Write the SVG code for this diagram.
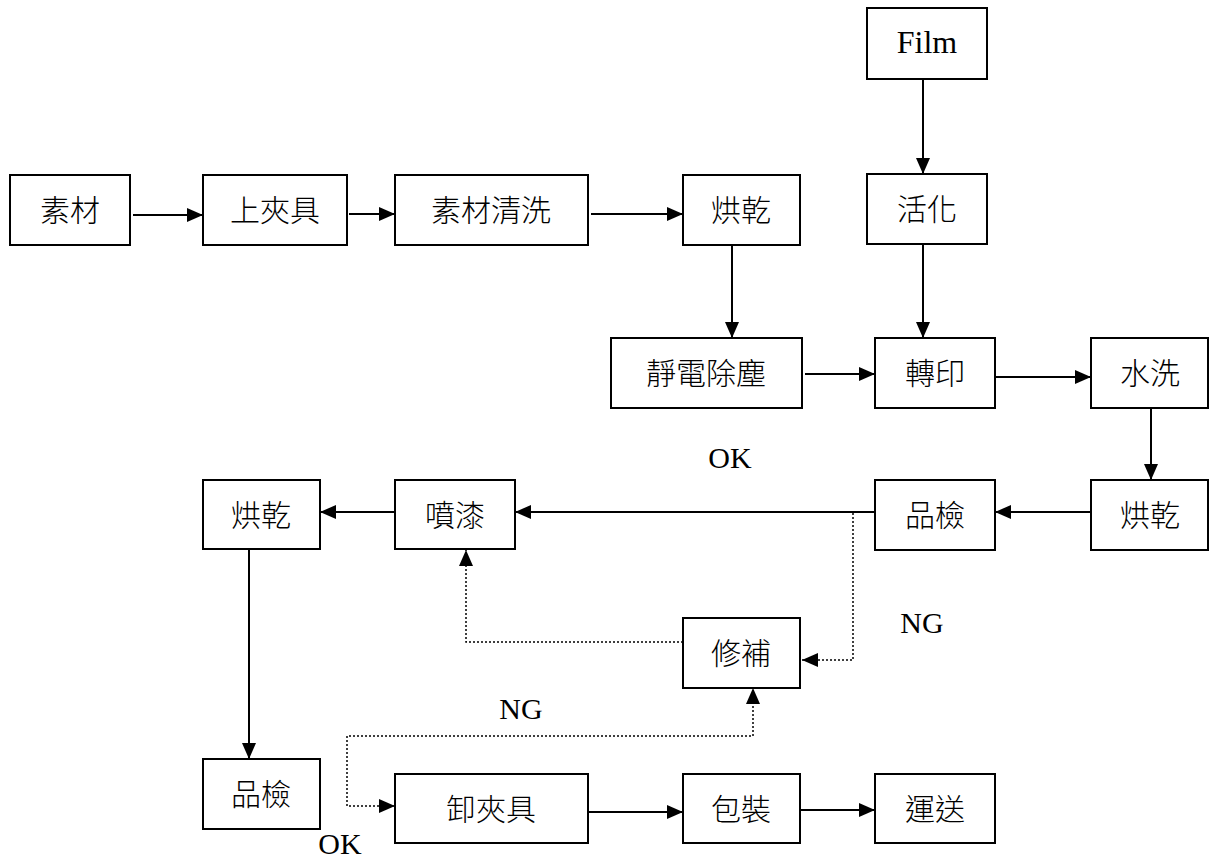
<svg xmlns="http://www.w3.org/2000/svg" width="1218" height="858" viewBox="0 0 1218 858">
<style>
.box{fill:#fff;stroke:#000;stroke-width:2}
.t{font-family:"Noto Sans CJK TC",sans-serif;font-size:30px;font-weight:300;text-anchor:middle;fill:#000}
.f{font-family:"Liberation Serif",serif;font-size:32px;text-anchor:middle;fill:#000}
.l{font-family:"Liberation Serif",serif;font-size:30px;text-anchor:middle;fill:#000}
.c{stroke:#000;stroke-width:2;fill:none}
.d{stroke:#000;stroke-width:1.5;fill:none;stroke-dasharray:2 2}
</style>
<defs>
<marker id="a" viewBox="0 0 16 14" refX="16" refY="7" markerWidth="16" markerHeight="14" markerUnits="userSpaceOnUse" orient="auto">
<path d="M0,0 L16,7 L0,14 Z" fill="#000"/>
</marker>
</defs>
<rect width="1218" height="858" fill="#fff"/>
<g id="connectors">
<line class="c" x1="133" y1="215" x2="203" y2="215" marker-end="url(#a)"/>
<line class="c" x1="349" y1="214" x2="395" y2="214" marker-end="url(#a)"/>
<line class="c" x1="591" y1="214" x2="683" y2="214" marker-end="url(#a)"/>
<line class="c" x1="923" y1="79" x2="923" y2="174" marker-end="url(#a)"/>
<line class="c" x1="732" y1="245" x2="732" y2="338" marker-end="url(#a)"/>
<line class="c" x1="923" y1="244" x2="923" y2="338" marker-end="url(#a)"/>
<line class="c" x1="805" y1="374" x2="875" y2="374" marker-end="url(#a)"/>
<line class="c" x1="995" y1="377" x2="1091" y2="377" marker-end="url(#a)"/>
<line class="c" x1="1151" y1="408" x2="1151" y2="480" marker-end="url(#a)"/>
<line class="c" x1="1091" y1="512" x2="995" y2="512" marker-end="url(#a)"/>
<line class="c" x1="875" y1="512" x2="515" y2="512" marker-end="url(#a)"/>
<line class="c" x1="395" y1="512" x2="320" y2="512" marker-end="url(#a)"/>
<line class="c" x1="249" y1="549" x2="249" y2="759" marker-end="url(#a)"/>
<line class="c" x1="588" y1="812" x2="683" y2="812" marker-end="url(#a)"/>
<line class="c" x1="800" y1="810" x2="875" y2="810" marker-end="url(#a)"/>
<polyline class="d" points="853,513 853,660 802,660" marker-end="url(#a)"/>
<polyline class="d" points="683,642 466,642 466,550" marker-end="url(#a)"/>
<polyline class="d" points="395,806 347,806 347,736 753,736 753,688" marker-end="url(#a)"/>
<path d="M379,799 L395,806 L379,813 Z" fill="#000"/>
</g>
<g id="n1"><rect class="box" x="10" y="175" width="120" height="70"/><text class="t" x="70" y="221">素材</text></g>
<g id="n2"><rect class="box" x="203" y="175" width="144" height="70"/><text class="t" x="275" y="221">上夾具</text></g>
<g id="n3"><rect class="box" x="395" y="175" width="193" height="70"/><text class="t" x="491" y="221">素材清洗</text></g>
<g id="n4"><rect class="box" x="683" y="175" width="117" height="70"/><text class="t" x="741" y="221">烘乾</text></g>
<g id="n5"><rect class="box" x="867" y="8" width="120" height="71"/><text class="f" x="927" y="53">Film</text></g>
<g id="n6"><rect class="box" x="867" y="174" width="120" height="70"/><text class="t" x="927" y="220">活化</text></g>
<g id="n7"><rect class="box" x="611" y="338" width="191" height="70"/><text class="t" x="706" y="384">靜電除塵</text></g>
<g id="n8"><rect class="box" x="875" y="338" width="120" height="70"/><text class="t" x="935" y="384">轉印</text></g>
<g id="n9"><rect class="box" x="1091" y="338" width="117" height="70"/><text class="t" x="1150" y="384">水洗</text></g>
<g id="n10"><rect class="box" x="1091" y="480" width="117" height="70"/><text class="t" x="1150" y="526">烘乾</text></g>
<g id="n11"><rect class="box" x="875" y="480" width="120" height="70"/><text class="t" x="935" y="526">品檢</text></g>
<g id="n12"><rect class="box" x="395" y="480" width="120" height="69"/><text class="t" x="455" y="526">噴漆</text></g>
<g id="n13"><rect class="box" x="203" y="480" width="117" height="69"/><text class="t" x="261" y="526">烘乾</text></g>
<g id="n14"><rect class="box" x="683" y="618" width="117" height="70"/><text class="t" x="741" y="664">修補</text></g>
<g id="n15"><rect class="box" x="203" y="759" width="117" height="70"/><text class="t" x="261" y="805">品檢</text></g>
<g id="n16"><rect class="box" x="395" y="774" width="193" height="69"/><text class="t" x="491" y="820">卸夾具</text></g>
<g id="n17"><rect class="box" x="683" y="774" width="117" height="69"/><text class="t" x="741" y="820">包裝</text></g>
<g id="n18"><rect class="box" x="875" y="774" width="120" height="69"/><text class="t" x="935" y="820">運送</text></g>
<g id="labels">
<text class="l" x="730" y="468">OK</text>
<text class="l" x="922" y="633">NG</text>
<text class="l" x="521" y="719">NG</text>
<text class="l" x="340" y="854">OK</text>
</g>
</svg>
